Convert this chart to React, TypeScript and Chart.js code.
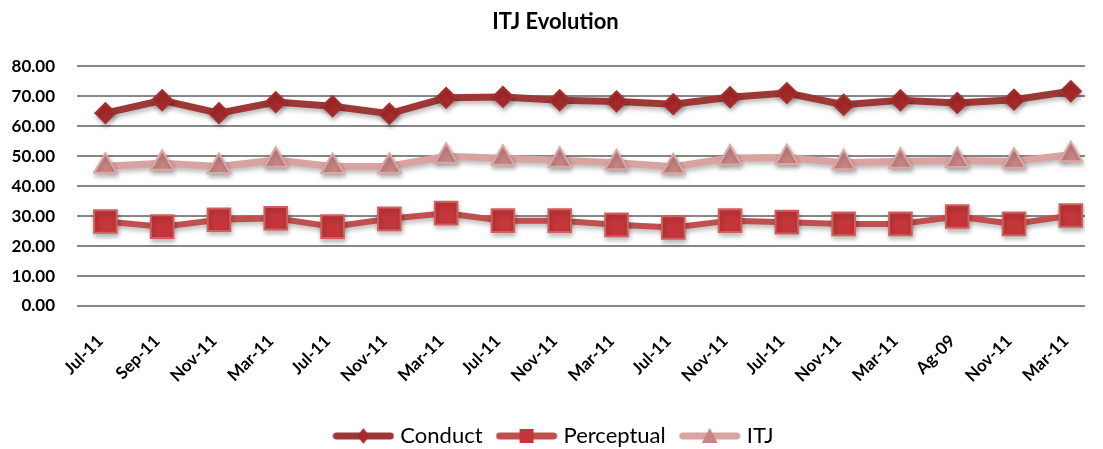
import React, { useEffect, useRef } from "react";
import { Chart, registerables } from "chart.js";

Chart.register(...registerables);

const categories = [
  "Jul-11", "Sep-11", "Nov-11", "Mar-11", "Jul-11", "Nov-11", "Mar-11", "Jul-11", "Nov-11",
  "Mar-11", "Jul-11", "Nov-11", "Jul-11", "Nov-11", "Mar-11", "Ag-09", "Nov-11", "Mar-11",
];
const conductValues = [64.4, 68.7, 64.4, 68.1, 66.7, 64.2, 69.5, 69.8, 68.7, 68.3, 67.4, 69.7, 71.1, 67.2, 68.7, 67.8, 68.9, 71.7];
const perceptualValues = [28.2, 26.5, 28.8, 29.3, 26.5, 29.1, 31.0, 28.5, 28.5, 27.1, 26.2, 28.5, 28.0, 27.4, 27.4, 29.9, 27.4, 30.2];
const itjValues = [46.7, 47.7, 46.6, 48.7, 46.6, 46.7, 50.0, 49.3, 48.7, 47.8, 46.5, 49.4, 49.6, 47.8, 48.3, 48.6, 48.3, 50.5];
const seriesNames = ["Conduct", "Perceptual", "ITJ"];
const chartTitle = "ITJ Evolution";
const yMin = 0;
const yMax = 80;
const yStep = 10;

const FONT = "Lato, 'Liberation Sans', Arial, sans-serif";

const STYLES = [
  { line: "#9E3836", fill: "#A8292B", border: "#A3302F", marker: "rectRot" },
  { line: "#C0504D", fill: "#C4363A", border: "#D0605D", marker: "rect" },
  { line: "#D9A3A2", fill: "#C98585", border: "#DBA8A6", marker: "triangle" },
];

function makeIcon(i: number): HTMLCanvasElement {
  const s = STYLES[i];
  const c = document.createElement("canvas");
  c.width = 62;
  c.height = 22;
  const ctx = c.getContext("2d")!;
  ctx.strokeStyle = s.line;
  ctx.lineWidth = 7;
  ctx.lineCap = "round";
  ctx.beginPath();
  ctx.moveTo(4, 11);
  ctx.lineTo(58, 11);
  ctx.stroke();
  ctx.fillStyle = s.fill;
  ctx.beginPath();
  if (s.marker === "rectRot") {
    ctx.moveTo(31, 3);
    ctx.lineTo(37, 11);
    ctx.lineTo(31, 19);
    ctx.lineTo(25, 11);
  } else if (s.marker === "rect") {
    ctx.rect(24, 4, 14, 14);
  } else {
    ctx.moveTo(31, 3);
    ctx.lineTo(39, 18);
    ctx.lineTo(23, 18);
  }
  ctx.closePath();
  ctx.fill();
  return c;
}

const shadowPlugin = {
  id: "markerShadow",
  beforeDatasetsDraw(chart: any) {
    const ctx = chart.ctx;
    ctx.save();
    ctx.shadowColor = "rgba(0,0,0,0.28)";
    ctx.shadowBlur = 5;
    ctx.shadowOffsetX = 1;
    ctx.shadowOffsetY = 3;
  },
  afterDatasetsDraw(chart: any) {
    chart.ctx.restore();
  },
};

export default function App() {
  const ref = useRef<HTMLCanvasElement | null>(null);

  useEffect(() => {
    if (!ref.current) return;
    const icons = [0, 1, 2].map(makeIcon);
    const series = [conductValues, perceptualValues, itjValues];
    const radii = [10, 16, 13];
    const widths = [7, 6, 7];

    const chart = new Chart(ref.current, {
      type: "line",
      data: {
        datasets: series.map((vals, i) => ({
          label: seriesNames[i],
          data: vals.map((v, k) => ({ x: k, y: v })),
          borderColor: STYLES[i].line,
          backgroundColor: STYLES[i].fill,
          borderWidth: widths[i],
          tension: 0,
          pointStyle: STYLES[i].marker as any,
          pointRadius: radii[i],
          pointHoverRadius: radii[i],
          pointBackgroundColor: STYLES[i].fill,
          pointBorderColor: STYLES[i].border,
          pointBorderWidth: 2,
        })),
      },
      options: {
        responsive: false,
        animation: false,
        layout: { padding: { left: 0, right: 0, top: 0, bottom: 0 } },
        plugins: {
          tooltip: { enabled: false },
          title: {
            display: true,
            text: chartTitle,
            color: "#000",
            font: { family: FONT, size: 22, weight: "bold" },
            padding: { top: 1, bottom: 31 },
          },
          legend: {
            position: "bottom",
            labels: {
              usePointStyle: true,
              pointStyleWidth: 52,
              color: "#000",
              font: { family: FONT, size: 22 },
              padding: 18,
              generateLabels: (ch: any) => {
                const items = (Chart.defaults.plugins.legend.labels as any).generateLabels(ch);
                return items.map((it: any, i: number) => ({ ...it, pointStyle: icons[i] }));
              },
            },
          },
        },
        scales: {
          x: {
            type: "linear",
            min: -0.5,
            max: 17.25,
            grid: { display: false },
            border: { display: false },
            afterBuildTicks: (axis: any) => {
              axis.ticks = categories.map((_, i) => ({ value: i }));
            },
            afterFit: (s: any) => {
              s.height = 101;
            },
            ticks: {
              autoSkip: false,
              maxRotation: 45,
              minRotation: 45,
              padding: 17,
              labelOffset: -5,
              color: "#000",
              font: { family: FONT, size: 17, weight: "bold" },
              callback: (v: any) => categories[v as number] ?? "",
            },
          },
          y: {
            min: yMin,
            max: yMax,
            border: { display: false },
            grid: { color: "#868686", lineWidth: 2, drawTicks: false },
            afterFit: (s: any) => {
              s.width = 69;
            },
            ticks: {
              stepSize: yStep,
              padding: 22,
              color: "#000",
              font: { family: FONT, size: 17, weight: "bold" },
              callback: (v: any) => Number(v).toFixed(2),
            },
          },
        },
      },
      plugins: [shadowPlugin],
    } as any);

    return () => chart.destroy();
  }, []);

  return (
    <div style={{ width: 1095, height: 441, overflow: "hidden" }}>
      <canvas ref={ref} width={1095} height={449} style={{ display: "block" }} />
    </div>
  );
}
